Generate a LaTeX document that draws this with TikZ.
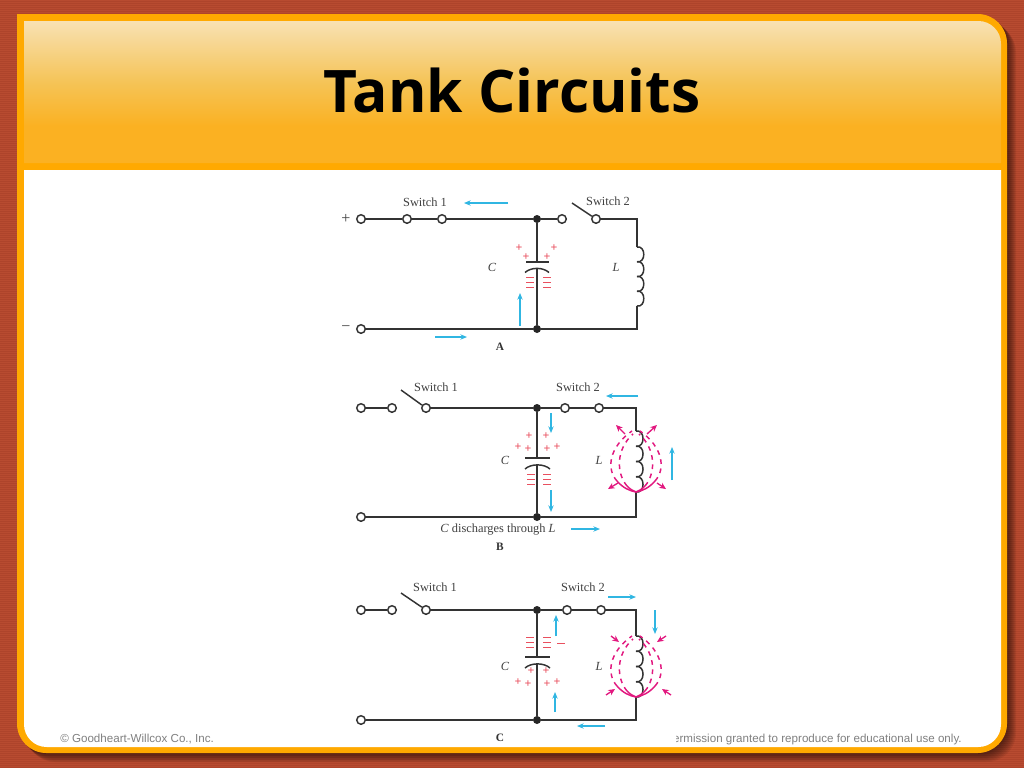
\documentclass[tikz,border=0pt]{standalone}
\usepackage{fontspec}
\setmainfont{Liberation Serif}
\newfontfamily\titlefont{Open Sans}
\newfontfamily\footfont{Liberation Sans}
\usetikzlibrary{arrows.meta}
\definecolor{brick}{HTML}{B84B30}
\definecolor{brickdark}{HTML}{AE442B}
\definecolor{rim}{HTML}{FFA900}
\definecolor{wire}{HTML}{333333}
\definecolor{curr}{HTML}{30B6E2}
\definecolor{flux}{HTML}{E2187F}
\definecolor{charge}{HTML}{E9505F}
\definecolor{hdrb}{HTML}{FBB122}
\definecolor{hdrm}{HTML}{F5C355}
\definecolor{hdrt}{HTML}{F8E1B3}
\pgfdeclareverticalshading{header}{100bp}{color(0bp)=(hdrb);color(25bp)=(hdrb);color(38bp)=(hdrb);color(53bp)=(hdrm);color(75bp)=(hdrt);color(100bp)=(hdrt)}
\tikzset{
  term/.style={circle, draw=wire, fill=white, line width=1.1pt, inner sep=0pt, minimum size=6.4pt},
  dot/.style={circle, fill=black!85, inner sep=0pt, minimum size=6pt},
  ln/.style={draw=wire, line width=1.1pt},
  cur/.style={-{Stealth[length=5pt, width=4pt]}, curr, line width=0.8pt},
  fl/.style={-{Stealth[length=5pt, width=4.5pt]}, flux, line width=1pt},
  chg/.style={charge, font=\bfseries\fontsize{9}{9}\selectfont, inner sep=0pt},
  lab/.style={black!75, font=\fontsize{9.3}{10}\selectfont, inner sep=0pt},
  tag/.style={black!80, font=\bfseries\fontsize{8.5}{9}\selectfont, inner sep=0pt}
}
% outer frame of the slide
\newcommand{\framepath}{(17,14) [rounded corners=22pt] -- (1007,14) -- (1007,753) -- (17,753) -- (17,300) [sharp corners] -- cycle}
% coil, four bumps: name, x, top y, bottom y
\newcommand{\coil}[4]{
  \pgfmathsetmacro{\stp}{(#4-#3)/4}
  \coordinate (#1t) at (#2,#3);
  \coordinate (#1b) at (#2,#4);
  \foreach \i in {0,...,3}
    \draw[ln] (#2,{#3+\i*\stp}) to[out=10, in=-10, looseness=1.6] (#2,{#3+(\i+1)*\stp});
}
% stack of three minus marks: x, top y
\newcommand{\minusstack}[2]{
  \foreach \d in {0,5,10}
    \draw[charge, line width=0.7pt] (#1-4,#2+\d) -- (#1+4,#2+\d);
}
% field lines round the coil: x, top y
\newcommand{\fluxlines}[2]{
  \foreach \s in {-1,1} {
    \begin{scope}[shift={(#1,#2)}, xscale=\s]
      \draw[flux, line width=1.1pt] (0,61) .. controls (-6,60) and (-13,57) .. (-19,50);
      \draw[flux, line width=1.1pt] (0,61) .. controls (-3,60) and (-6,58) .. (-9,55);
      \draw[flux, line width=1.1pt, dash pattern=on 3.5pt off 3.5pt] (-19,50) .. controls (-30,38) and (-27,16) .. (-4,0);
      \draw[flux, line width=1.1pt, dash pattern=on 3.5pt off 3.5pt] (-9,55) .. controls (-20,42) and (-20,18) .. (-3,3);
    \end{scope}
  }
}
\begin{document}
\begin{tikzpicture}[x=0.75pt, y=-0.75pt]
  \useasboundingbox (0,0) rectangle (1024,768);

  % Background
  \fill[brick] (0,0) rectangle (1024,768);
  \foreach \y in {1,3,...,767}
    \draw[brickdark, line width=0.5pt] (0,\y) -- (1024,\y);
  \foreach \k in {9,8,...,1} {
    \begin{scope}[shift={(\k,\k)}]
      \fill[black, opacity=0.07] \framepath;
    \end{scope}
  }
  \fill[rim] \framepath;
  \shade[shading=header] (24,163) -- (24,21) [rounded corners=17pt] -- (1001,21) -- (1001,100) [sharp corners] -- (1001,163) -- cycle;
  \fill[white] (24,170) [rounded corners=17pt] -- (24,747) -- (1001,747) -- (1001,600) [sharp corners] -- (1001,170) -- cycle;

  % Title and footer
  \node[font=\titlefont\bfseries\fontsize{44}{44}\selectfont, inner sep=0pt, black, anchor=base] (title) at (512,112) {Tank Circuits};
  \node[font=\footfont\fontsize{8.7}{9}\selectfont, black!50, anchor=west, inner sep=0pt] (footl) at (60,739) {© Goodheart-Willcox Co., Inc.};
  \node[font=\footfont\fontsize{8.7}{9}\selectfont, black!50, anchor=east, inner sep=0pt] (footr) at (962,739) {Permission granted to reproduce for educational use only.};
  \fill[white] (330,725) rectangle (676,746);

  % Circuit A
  \node[term] (a1) at (361,219) {};
  \node[term] (a2) at (407,219) {};
  \node[term] (a3) at (442,219) {};
  \node[dot] (a4) at (537,219) {};
  \node[term] (a5) at (562,219) {};
  \node[term] (a6) at (596,219) {};
  \coordinate (a7) at (637,219);
  \coordinate (a8) at (637,329);
  \node[dot] (a9) at (537,329) {};
  \node[term] (a10) at (361,329) {};
  \coordinate (aarm) at (572,203);
  \coordinate (acap) at (537,262);
  \coordinate (acup) at (537,268.5);
  \coil{ac}{637}{247}{306}
  \draw[ln] (a1) -- (a2);
  \draw[ln] (a2) -- (a3);
  \draw[ln] (a3) -- (a4);
  \draw[ln] (a4) -- (a5);
  \draw[ln] (aarm) -- (a6);
  \draw[ln] (a6) -- (a7) -- (act);
  \draw[ln] (acb) -- (a8) -- (a9);
  \draw[ln] (a9) -- (a10);
  \draw[ln] (a4) -- (acap);
  \draw[ln] (acup) -- (a9);
  \draw[ln] (526,262) -- (549,262);
  \draw[ln] (525,272.5) .. controls (531,267) and (543,267) .. (549,272.5);
  \foreach \p [count=\i] in {(519,248),(526,257),(547,257),(554,248)}
    \node[chg] (ap\i) at \p {+};
  \minusstack{530}{277}
  \minusstack{547}{277}
  \draw[cur] (508,203) -- (464,203);
  \draw[cur] (520,326) -- (520,293);
  \draw[cur] (435,337) -- (467,337);
  \node[lab] (asw1) at (425,202) {Switch 1};
  \node[lab] (asw2) at (608,201) {Switch 2};
  \node[lab] (aC) at (492,267) {\textit{C}};
  \node[lab] (aL) at (616,267) {\textit{L}};
  \node[tag] (aname) at (500,347) {A};
  \node[lab, font=\fontsize{12}{12}\selectfont] (aplus) at (346,218.5) {+};
  \node[lab, font=\fontsize{12}{12}\selectfont] (aminus) at (346,329) {−};

  % Circuit B
  \node[term] (b1) at (361,408) {};
  \node[term] (b2) at (392,408) {};
  \node[term] (b3) at (426,408) {};
  \node[dot] (b4) at (537,408) {};
  \node[term] (b5) at (565,408) {};
  \node[term] (b6) at (599,408) {};
  \coordinate (b7) at (636,408);
  \coordinate (b8) at (636,517);
  \node[dot] (b9) at (537,517) {};
  \node[term] (b10) at (361,517) {};
  \coordinate (barm) at (401,390);
  \coordinate (bcap) at (537,458);
  \coordinate (bcup) at (537,465);
  \coil{bc}{636}{431}{492}
  \draw[ln] (b1) -- (b2);
  \draw[ln] (barm) -- (b3);
  \draw[ln] (b3) -- (b4);
  \draw[ln] (b4) -- (b5);
  \draw[ln] (b5) -- (b6);
  \draw[ln] (b6) -- (b7) -- (bct);
  \draw[ln] (bcb) -- (b8) -- (b9);
  \draw[ln] (b9) -- (b10);
  \draw[ln] (b4) -- (bcap);
  \draw[ln] (bcup) -- (b9);
  \draw[ln] (525,458) -- (550,458);
  \draw[ln] (525,469) .. controls (531,463.5) and (544,463.5) .. (550,469);
  \foreach \p [count=\i] in {(529,436.5),(546,436.5),(518,447),(528,449.5),(547,449.5),(557,447)}
    \node[chg] (bp\i) at \p {+};
  \minusstack{531}{474}
  \minusstack{547}{474}
  \fluxlines{636}{431}
  \draw[fl] (625,434) -- (616,425);
  \draw[fl] (647,434) -- (657,425);
  \draw[fl] (618,483) -- (608,489);
  \draw[fl] (657,483) -- (666,489);
  \draw[cur] (551,413) -- (551,433);
  \draw[cur] (551,490) -- (551,512);
  \draw[cur] (638,396) -- (606,396);
  \draw[cur] (672,480) -- (672,447);
  \draw[cur] (571,529) -- (600,529);
  \node[lab] (bsw1) at (436,387) {Switch 1};
  \node[lab] (bsw2) at (578,387) {Switch 2};
  \node[lab] (bC) at (505,460) {\textit{C}};
  \node[lab] (bL) at (599,460) {\textit{L}};
  \node[lab] (bnote) at (498,530) {\textit{C} discharges through \textit{L}};
  \node[tag] (bname) at (500,547) {B};

  % Circuit C
  \node[term] (c1) at (361,610) {};
  \node[term] (c2) at (392,610) {};
  \node[term] (c3) at (426,610) {};
  \node[dot] (c4) at (537,610) {};
  \node[term] (c5) at (567,610) {};
  \node[term] (c6) at (601,610) {};
  \coordinate (c7) at (636,610);
  \coordinate (c8) at (636,720);
  \node[dot] (c9) at (537,720) {};
  \node[term] (c10) at (361,720) {};
  \coordinate (carm) at (401,593);
  \coordinate (ccap) at (537,657);
  \coordinate (ccup) at (537,664);
  \coil{cc}{636}{636}{697}
  \draw[ln] (c1) -- (c2);
  \draw[ln] (carm) -- (c3);
  \draw[ln] (c3) -- (c4);
  \draw[ln] (c4) -- (c5);
  \draw[ln] (c5) -- (c6);
  \draw[ln] (c6) -- (c7) -- (cct);
  \draw[ln] (ccb) -- (c8) -- (c9);
  \draw[ln] (c9) -- (c10);
  \draw[ln] (c4) -- (ccap);
  \draw[ln] (ccup) -- (c9);
  \draw[ln] (525,657) -- (550,657);
  \draw[ln] (525,668) .. controls (531,662.5) and (544,662.5) .. (550,668);
  \minusstack{530}{637}
  \minusstack{547}{637}
  \draw[charge, line width=0.7pt] (557,643) -- (565,643);
  \foreach \p [count=\i] in {(531,671.5),(546,671.5),(518,682),(528,684.5),(547,684.5),(557,682)}
    \node[chg] (cp\i) at \p {+};
  \fluxlines{636}{636}
  \draw[fl] (611,636) -- (619,642);
  \draw[fl] (666,636) -- (657,642);
  \draw[fl] (606,695) -- (615,689);
  \draw[fl] (671,695) -- (662,689);
  \draw[cur] (556,636) -- (556,615);
  \draw[cur] (555,712) -- (555,692);
  \draw[cur] (608,597) -- (636,597);
  \draw[cur] (655,610) -- (655,634);
  \draw[cur] (605,726) -- (577,726);
  \node[lab] (csw1) at (435,587) {Switch 1};
  \node[lab] (csw2) at (583,587) {Switch 2};
  \node[lab] (cC) at (505,666) {\textit{C}};
  \node[lab] (cL) at (599,666) {\textit{L}};
  \node[tag] (cname) at (500,738) {C};
\end{tikzpicture}
\end{document}
